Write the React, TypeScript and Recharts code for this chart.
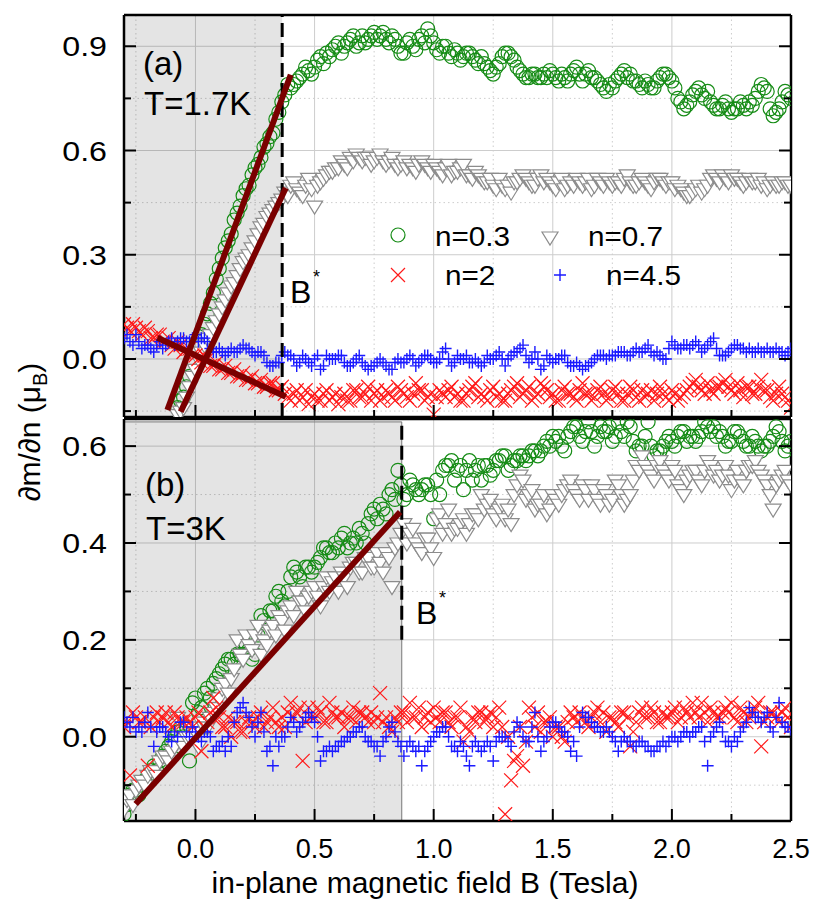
import React from 'react';
import {
  ScatterChart,
  Scatter,
  XAxis,
  YAxis,
  CartesianGrid,
  ReferenceArea,
} from 'recharts';

// in-plane field sweep shared by both panels (Tesla)
const FIELD = [
  -0.3, -0.275, -0.25, -0.225, -0.2, -0.175, -0.15, -0.125, -0.1, -0.075,
  -0.05, -0.025, 0, 0.025, 0.05, 0.075, 0.1, 0.125, 0.15, 0.175,
  0.2, 0.225, 0.25, 0.275, 0.3, 0.325, 0.35, 0.375, 0.4, 0.425,
  0.45, 0.475, 0.5, 0.525, 0.55, 0.575, 0.6, 0.625, 0.65, 0.675,
  0.7, 0.725, 0.75, 0.775, 0.8, 0.825, 0.85, 0.875, 0.9, 0.925,
  0.95, 0.975, 1, 1.025, 1.05, 1.075, 1.1, 1.125, 1.15, 1.175,
  1.2, 1.225, 1.25, 1.275, 1.3, 1.325, 1.35, 1.375, 1.4, 1.425,
  1.45, 1.475, 1.5, 1.525, 1.55, 1.575, 1.6, 1.625, 1.65, 1.675,
  1.7, 1.725, 1.75, 1.775, 1.8, 1.825, 1.85, 1.875, 1.9, 1.925,
  1.95, 1.975, 2, 2.025, 2.05, 2.075, 2.1, 2.125, 2.15, 2.175,
  2.2, 2.225, 2.25, 2.275, 2.3, 2.325, 2.35, 2.375, 2.4, 2.425,
  2.45, 2.475, 2.5,
];
// second (interleaved) sweep
const FIELD_MID = [
  -0.2875, -0.2625, -0.2375, -0.2125, -0.1875, -0.1625, -0.1375, -0.1125, -0.0875, -0.0625,
  -0.0375, -0.0125, 0.0125, 0.0375, 0.0625, 0.0875, 0.1125, 0.1375, 0.1625, 0.1875,
  0.2125, 0.2375, 0.2625, 0.2875, 0.3125, 0.3375, 0.3625, 0.3875, 0.4125, 0.4375,
  0.4625, 0.4875, 0.5125, 0.5375, 0.5625, 0.5875, 0.6125, 0.6375, 0.6625, 0.6875,
  0.7125, 0.7375, 0.7625, 0.7875, 0.8125, 0.8375, 0.8625, 0.8875, 0.9125, 0.9375,
  0.9625, 0.9875, 1.0125, 1.0375, 1.0625, 1.0875, 1.1125, 1.1375, 1.1625, 1.1875,
  1.2125, 1.2375, 1.2625, 1.2875, 1.3125, 1.3375, 1.3625, 1.3875, 1.4125, 1.4375,
  1.4625, 1.4875, 1.5125, 1.5375, 1.5625, 1.5875, 1.6125, 1.6375, 1.6625, 1.6875,
  1.7125, 1.7375, 1.7625, 1.7875, 1.8125, 1.8375, 1.8625, 1.8875, 1.9125, 1.9375,
  1.9625, 1.9875, 2.0125, 2.0375, 2.0625, 2.0875, 2.1125, 2.1375, 2.1625, 2.1875,
  2.2125, 2.2375, 2.2625, 2.2875, 2.3125, 2.3375, 2.3625, 2.3875, 2.4125, 2.4375,
  2.4625, 2.4875,
];

// panel (a), T = 1.7 K  (dm/dn in mu_B, null = no point)
const A_N03 = [
  null, null, null, null, null, null, null, null, null, -0.14,
  -0.11, -0.05, 0.03, 0.07, 0.13, 0.19, 0.26, 0.32, 0.36, 0.42,
  0.47, 0.5, 0.55, 0.58, 0.62, 0.65, 0.71, 0.76, 0.78, 0.8,
  0.82, 0.83, 0.84, 0.87, 0.88, 0.89, 0.91, 0.9, 0.92, 0.9,
  0.93, 0.92, 0.94, 0.93, 0.92, 0.93, 0.9, 0.88, 0.92, 0.89,
  0.93, 0.95, 0.91, 0.88, 0.9, 0.87, 0.88, 0.87, 0.88, 0.86,
  0.87, 0.84, 0.82, 0.85, 0.88, 0.87, 0.84, 0.82, 0.81, 0.82,
  0.81, 0.81, 0.82, 0.8, 0.81, 0.82, 0.84, 0.8, 0.83, 0.81,
  0.79, 0.77, 0.78, 0.81, 0.83, 0.82, 0.8, 0.78, 0.79, 0.78,
  0.81, 0.82, 0.8, 0.75, 0.72, 0.74, 0.77, 0.76, 0.77, 0.73,
  0.72, 0.74, 0.71, 0.72, 0.73, 0.74, 0.75, 0.79, 0.77, 0.7,
  0.72, 0.77, 0.75,
];
const A_N03_MID = [
  null, null, null, null, null, null, null, null, null, -0.12,
  -0.08, 0, 0.05, 0.1, 0.16, 0.23, 0.29, 0.34, 0.4, 0.44,
  0.49, 0.53, 0.56, 0.61, 0.64, 0.69, 0.74, 0.79, 0.79, 0.81,
  0.84, 0.82, 0.86, 0.85, 0.87, 0.9, 0.88, 0.91, 0.93, 0.91,
  0.91, 0.93, 0.92, 0.94, 0.91, 0.92, 0.88, 0.91, 0.9, 0.92,
  0.91, 0.93, 0.89, 0.9, 0.88, 0.89, 0.86, 0.88, 0.87, 0.85,
  0.85, 0.83, 0.84, 0.87, 0.88, 0.86, 0.83, 0.81, 0.82, 0.81,
  0.82, 0.83, 0.81, 0.82, 0.8, 0.83, 0.82, 0.82, 0.81, 0.8,
  0.78, 0.79, 0.8, 0.82, 0.81, 0.8, 0.79, 0.8, 0.78, 0.8,
  0.82, 0.81, 0.78, 0.74, 0.73, 0.76, 0.78, 0.75, 0.74, 0.72,
  0.73, 0.72, 0.72, 0.74, 0.72, 0.73, 0.77, 0.78, 0.72, 0.71,
  0.74, 0.76,
];
const A_N07 = [
  null, null, null, null, null, null, null, null, null, -0.16,
  -0.14, -0.08, -0.03, 0.02, 0.06, 0.09, 0.13, 0.17, 0.21, 0.24,
  0.28, 0.3, 0.34, 0.38, 0.41, 0.43, 0.45, 0.48, 0.5, 0.49,
  0.47, 0.52, 0.44, 0.51, 0.53, 0.54, 0.55, 0.56, 0.58, 0.59,
  0.57, 0.58, 0.57, 0.59, 0.56, 0.58, 0.55, 0.57, 0.56, 0.54,
  0.57, 0.55, 0.56, 0.54, 0.55, 0.53, 0.54, 0.56, 0.53, 0.54,
  0.52, 0.51, 0.5, 0.52, 0.49, 0.48, 0.51, 0.53, 0.51, 0.5,
  0.53, 0.52, 0.5, 0.51, 0.49, 0.51, 0.52, 0.5, 0.52, 0.5,
  0.51, 0.52, 0.5, 0.51, 0.52, 0.51, 0.5, 0.52, 0.5, 0.51,
  0.52, 0.5, 0.51, 0.5, 0.48, 0.47, 0.49, 0.48, 0.5, 0.53,
  0.51, 0.52, 0.53, 0.52, 0.5, 0.52, 0.51, 0.5, 0.49, 0.51,
  0.5, 0.51, 0.5,
];
const A_N07_MID = [
  null, null, null, null, null, null, null, null, null, -0.15,
  -0.11, -0.05, 0, 0.04, 0.07, 0.11, 0.15, 0.19, 0.22, 0.26,
  0.29, 0.32, 0.36, 0.39, 0.42, 0.44, 0.46, 0.47, 0.51, 0.48,
  0.5, 0.49, 0.5, 0.52, 0.54, 0.55, 0.57, 0.55, 0.57, 0.58,
  0.58, 0.56, 0.58, 0.57, 0.57, 0.56, 0.56, 0.55, 0.55, 0.56,
  0.56, 0.54, 0.55, 0.53, 0.56, 0.54, 0.55, 0.53, 0.52, 0.53,
  0.51, 0.52, 0.49, 0.5, 0.5, 0.51, 0.52, 0.52, 0.5, 0.52,
  0.51, 0.51, 0.49, 0.52, 0.5, 0.5, 0.51, 0.51, 0.49, 0.52,
  0.5, 0.51, 0.51, 0.5, 0.53, 0.5, 0.51, 0.51, 0.49, 0.52,
  0.51, 0.51, 0.49, 0.49, 0.47, 0.48, 0.5, 0.49, 0.52, 0.52,
  0.53, 0.51, 0.52, 0.51, 0.51, 0.51, 0.52, 0.51, 0.5, 0.5,
  0.51, 0.5,
];
const A_N2 = [
  0.1, 0.08, 0.09, 0.07, 0.08, 0.06, 0.07, 0.05, 0.04, 0.05,
  0.02, 0.03, 0.01, -0.01, 0, -0.02, -0.03, -0.02, -0.04, -0.05,
  -0.04, -0.06, -0.07, -0.06, -0.08, -0.07, -0.09, -0.1, -0.12, -0.09,
  -0.11, -0.13, -0.1, -0.12, -0.09, -0.11, -0.13, -0.1, -0.12, -0.09,
  -0.11, -0.08, -0.1, -0.12, -0.09, -0.11, -0.08, -0.1, -0.12, -0.07,
  -0.09, -0.11, -0.16, -0.09, -0.11, -0.08, -0.1, -0.12, -0.09, -0.07,
  -0.1, -0.12, -0.08, -0.1, -0.12, -0.09, -0.07, -0.1, -0.08, -0.11,
  -0.07, -0.09, -0.1, -0.12, -0.08, -0.1, -0.12, -0.07, -0.1, -0.11,
  -0.08, -0.12, -0.09, -0.1, -0.12, -0.08, -0.11, -0.09, -0.1, -0.12,
  -0.08, -0.11, -0.09, -0.12, -0.1, -0.08, -0.06, -0.09, -0.07, -0.1,
  -0.08, -0.06, -0.09, -0.07, -0.11, -0.08, -0.1, -0.06, -0.09, -0.12,
  -0.08, -0.11, -0.14,
];
const A_N2_MID = [
  0.09, 0.1, 0.08, 0.09, 0.06, 0.07, 0.05, 0.06, 0.03, 0.04,
  0.03, 0.01, 0, 0.01, -0.02, -0.01, -0.03, -0.04, -0.03, -0.05,
  -0.06, -0.05, -0.07, -0.08, -0.07, -0.09, -0.08, -0.11, -0.1, -0.12,
  -0.09, -0.11, -0.12, -0.1, -0.12, -0.1, -0.11, -0.12, -0.09, -0.11,
  -0.1, -0.12, -0.09, -0.11, -0.1, -0.12, -0.09, -0.11, -0.1, -0.09,
  -0.12, -0.1, -0.11, -0.1, -0.09, -0.11, -0.12, -0.1, -0.08, -0.11,
  -0.11, -0.09, -0.11, -0.12, -0.1, -0.08, -0.11, -0.09, -0.12, -0.1,
  -0.08, -0.11, -0.12, -0.09, -0.1, -0.11, -0.09, -0.1, -0.12, -0.09,
  -0.1, -0.11, -0.08, -0.12, -0.1, -0.09, -0.12, -0.11, -0.09, -0.1,
  -0.1, -0.12, -0.1, -0.11, -0.09, -0.07, -0.08, -0.1, -0.09, -0.08,
  -0.07, -0.08, -0.1, -0.09, -0.08, -0.1, -0.08, -0.09, -0.11, -0.1,
  -0.1, -0.12,
];
const A_N45 = [
  0.06, 0.05, 0.07, 0.03, 0.04, 0.02, 0.05, 0.04, 0.06, 0.05,
  0.06, 0.05, 0.07, 0.06, 0.05, 0.02, 0.03, 0.01, 0.03, 0.02,
  0.04, 0.03, 0.01, 0.02, -0.01, -0.02, -0.01, 0.02, 0.01, -0.02,
  0.01, -0.01, 0, -0.03, 0.01, 0, 0.01, -0.01, -0.02, 0,
  -0.01, -0.03, -0.02, 0, -0.02, -0.03, 0, -0.01, 0.01, -0.02,
  0, 0.01, -0.01, 0, 0.03, -0.02, 0.01, 0, -0.01, 0,
  -0.02, 0.01, 0, 0.02, -0.02, 0.01, 0.02, 0.04, -0.01, 0.02,
  -0.03, 0.01, -0.01, 0, 0.01, -0.02, -0.01, -0.03, -0.02, 0,
  0.01, 0, 0.01, 0.02, 0.02, 0.01, 0.03, 0.02, 0.04, 0.01,
  0.01, 0, 0.05, 0.03, 0.04, 0.03, 0.05, 0.02, 0.04, 0.06,
  0.01, 0.01, 0.03, 0.04, 0.03, 0.03, 0.02, 0.02, 0.03, 0.02,
  0.02, 0.01, 0.03,
];
const A_N45_MID = [
  0.07, 0.04, 0.05, 0.04, 0.03, 0.04, 0.03, 0.05, 0.04, 0.06,
  0.05, 0.06, 0.05, 0.06, 0.03, 0.02, 0.02, 0.02, 0.02, 0.03,
  0.03, 0.02, 0.02, 0.01, -0.02, -0.01, 0.01, 0.01, 0, -0.01,
  0, -0.02, 0.01, -0.02, 0, 0, 0.01, -0.02, -0.01, 0.01,
  -0.02, -0.02, -0.01, -0.01, -0.03, -0.01, -0.01, 0, 0, -0.01,
  0.01, 0, -0.01, 0.02, 0, -0.01, 0, 0.01, -0.01, -0.01,
  -0.01, 0, 0.01, 0, 0, 0.02, 0.03, 0.01, 0, 0,
  -0.02, 0, 0, 0.01, -0.01, -0.02, -0.02, -0.02, -0.01, 0.01,
  0.01, 0.01, 0.01, 0.02, 0.01, 0.02, 0.02, 0.03, 0.02, 0.02,
  0, 0.03, 0.04, 0.03, 0.04, 0.04, 0.04, 0.03, 0.05, 0.03,
  0.01, 0.02, 0.04, 0.03, 0.02, 0.02, 0.03, 0.02, 0.02, 0.03,
  0.02, 0.02,
];

// panel (b), T = 3 K
const B_N03 = [
  -0.16, -0.12, -0.11, -0.1, -0.08, -0.06, -0.05, -0.03, -0.01, 0.01,
  0, -0.05, 0.08, 0.06, 0.1, 0.11, 0.13, 0.15, 0.16, 0.17,
  0.17, 0.18, 0.17, 0.25, 0.22, 0.26, 0.3, 0.27, 0.33, 0.34,
  0.31, 0.35, 0.35, 0.37, 0.39, 0.38, 0.39, 0.42, 0.4, 0.4,
  0.42, 0.44, 0.47, 0.48, 0.46, 0.51, 0.55, 0.49, 0.53, 0.51,
  0.51, 0.52, 0.45, 0.5, 0.56, 0.57, 0.55, 0.51, 0.57, 0.55,
  0.53, 0.56, 0.55, 0.57, 0.58, 0.56, 0.57, 0.58, 0.58, 0.59,
  0.59, 0.61, 0.62, 0.62, 0.59, 0.63, 0.64, 0.61, 0.65, 0.6,
  0.64, 0.63, 0.61, 0.65, 0.62, 0.64, 0.59, 0.6, 0.65, 0.58,
  0.59, 0.61, 0.61, 0.62, 0.63, 0.62, 0.61, 0.63, 0.64, 0.64,
  0.63, 0.6, 0.61, 0.63, 0.61, 0.6, 0.61, 0.59, 0.6, 0.62,
  0.63, 0.59, 0.61,
];
const B_N03_MID = [
  -0.14, -0.11, -0.12, -0.09, -0.07, -0.07, -0.04, -0.02, 0, -0.02,
  0.02, 0.07, 0.05, 0.09, 0.08, 0.12, 0.14, 0.16, 0.15, 0.17,
  0.19, 0.16, 0.21, 0.24, 0.26, 0.29, 0.28, 0.3, 0.35, 0.33,
  0.35, 0.34, 0.36, 0.39, 0.38, 0.4, 0.41, 0.39, 0.41, 0.43,
  0.4, 0.46, 0.45, 0.47, 0.5, 0.49, 0.52, 0.5, 0.52, 0.5,
  0.52, 0.5, 0.53, 0.55, 0.56, 0.53, 0.56, 0.55, 0.53, 0.56,
  0.56, 0.54, 0.57, 0.58, 0.55, 0.57, 0.58, 0.57, 0.59, 0.58,
  0.6, 0.6, 0.61, 0.6, 0.62, 0.64, 0.62, 0.63, 0.63, 0.62,
  0.63, 0.64, 0.62, 0.63, 0.65, 0.61, 0.6, 0.62, 0.6, 0.59,
  0.6, 0.62, 0.6, 0.63, 0.61, 0.62, 0.62, 0.65, 0.63, 0.62,
  0.62, 0.61, 0.63, 0.62, 0.6, 0.62, 0.6, 0.6, 0.61, 0.64,
  0.61, 0.6,
];
const B_N07 = [
  -0.15, -0.12, -0.11, -0.09, -0.08, -0.07, -0.05, -0.04, -0.03, 0.04,
  -0.02, 0, 0.01, 0.03, 0.02, 0.05, 0.08, 0.11, 0.12, 0.2,
  0.16, 0.19, 0.21, 0.17, 0.19, 0.23, 0.25, 0.22, 0.27, 0.3,
  0.28, 0.29, 0.31, 0.27, 0.33, 0.32, 0.3, 0.33, 0.35, 0.36,
  0.34, 0.37, 0.35, 0.36, 0.38, 0.31, 0.4, 0.44, 0.42, 0.4,
  0.38, 0.41, 0.37, 0.46, 0.44, 0.42, 0.43, 0.45, 0.44, 0.46,
  0.5, 0.48, 0.46, 0.47, 0.45, 0.44, 0.52, 0.53, 0.5, 0.47,
  0.48, 0.46, 0.5, 0.48, 0.51, 0.53, 0.5, 0.52, 0.49, 0.51,
  0.48, 0.5, 0.49, 0.52, 0.48, 0.5, 0.56, 0.58, 0.55, 0.53,
  0.57, 0.54, 0.56, 0.52, 0.5, 0.54, 0.55, 0.52, 0.57, 0.54,
  0.53, 0.56, 0.51, 0.55, 0.52, 0.56, 0.57, 0.54, 0.52, 0.47,
  0.53, 0.55, 0.52,
];
const B_N07_MID = [
  -0.13, -0.14, -0.1, -0.1, -0.07, -0.08, -0.04, -0.05, -0.02, -0.01,
  0, 0.02, -0.02, 0.02, 0.04, 0.06, 0.1, 0.09, 0.14, 0.17,
  0.21, 0.18, 0.23, 0.2, 0.22, 0.21, 0.24, 0.26, 0.25, 0.28,
  0.26, 0.3, 0.29, 0.31, 0.3, 0.33, 0.34, 0.31, 0.36, 0.34,
  0.37, 0.35, 0.38, 0.34, 0.37, 0.39, 0.42, 0.4, 0.43, 0.39,
  0.41, 0.39, 0.45, 0.42, 0.47, 0.43, 0.44, 0.42, 0.46, 0.45,
  0.47, 0.49, 0.45, 0.48, 0.47, 0.5, 0.54, 0.49, 0.51, 0.48,
  0.5, 0.47, 0.49, 0.5, 0.52, 0.51, 0.49, 0.51, 0.52, 0.49,
  0.51, 0.48, 0.53, 0.5, 0.49, 0.53, 0.55, 0.56, 0.54, 0.56,
  0.55, 0.53, 0.55, 0.51, 0.53, 0.55, 0.53, 0.55, 0.56, 0.55,
  0.54, 0.54, 0.53, 0.53, 0.55, 0.56, 0.55, 0.53, 0.5, 0.52,
  0.54, 0.53,
];
const B_N2 = [
  0.02, -0.08, 0.04, 0.03, -0.06, 0.04, 0.03, 0.05, 0.02, 0.04,
  0.03, 0.03, 0.04, -0.03, 0.03, 0.08, 0.04, 0.02, 0, 0.03,
  0.01, 0.04, 0.02, 0.05, 0.03, 0.06, 0.02, 0.02, 0.07, 0.05,
  -0.05, 0.06, 0.04, 0.05, 0.03, 0.05, 0.04, 0.02, 0.04, 0.03,
  0.05, 0.03, 0.03, 0.09, 0.04, 0.01, 0.03, 0.05, 0.07, 0.04,
  0.02, 0.05, 0.06, 0.03, 0.05, 0.02, 0.04, -0.01, 0.01, 0.03,
  0.05, 0.04, 0.02, 0.06, -0.16, -0.09, -0.04, -0.06, 0.06, 0.02,
  0.01, 0.03, 0, 0.02, -0.01, 0.05, 0.03, 0.04, 0.02, 0.05,
  0.03, 0.01, 0.04, 0.02, 0.05, -0.02, 0.03, 0.06, 0.04, 0.05,
  0.03, 0.04, 0.05, 0.03, 0.06, 0.04, 0.05, 0.07, 0.03, 0.05,
  0.04, 0.06, 0.07, 0.03, 0.05, 0.04, 0.06, -0.02, 0.04, 0.05,
  0.03, 0.06, 0.02,
];
const B_N2_MID = [
  0.03, 0.05, 0.03, 0.04, 0.02, 0.05, 0.04, 0.03, 0.05, 0.03,
  0.04, 0.02, 0.05, 0.02, 0.05, 0.06, 0.02, 0.04, 0.03, 0.01,
  0.03, 0.03, 0.04, 0.02, 0.04, 0.03, 0.04, 0.05, 0.04, 0.06,
  0.03, 0.04, 0.06, 0.03, 0.07, 0.04, 0.05, 0.04, 0.06, 0.05,
  0.04, 0.05, 0.04, 0.03, 0.02, 0.04, 0.05, 0.03, 0.04, 0.06,
  0.04, 0.03, 0.04, 0.05, 0.03, 0.04, 0.06, 0.02, 0.04, 0.05,
  0.03, 0.05, 0.04, 0.02, 0, -0.05, 0.02, -0.01, 0.04, 0.05,
  0.03, 0.04, 0.02, 0, 0.03, 0.04, 0.05, 0.03, 0.04, 0.06,
  0.05, 0.04, 0.03, 0.05, 0.04, 0.01, 0.05, 0.04, 0.06, 0.03,
  0.05, 0.04, 0.06, 0.04, 0.05, 0.07, 0.04, 0.05, 0.06, 0.04,
  0.05, 0.05, 0.04, 0.06, 0.03, 0.05, 0.07, 0.03, 0.05, 0.04,
  0.05, 0.04,
];
const B_N45 = [
  0.04, 0.02, 0.01, 0.01, 0.05, -0.02, 0.02, 0.01, -0.01, 0,
  0.03, 0, 0.01, -0.01, 0.01, -0.03, -0.02, -0.03, -0.02, 0.05,
  0.07, 0.04, 0, 0.05, -0.03, -0.06, -0.02, 0, 0.04, 0.01,
  0.03, 0.05, 0.03, -0.05, -0.03, -0.03, -0.02, -0.01, 0, 0.01,
  0.02, -0.01, -0.02, -0.04, 0, 0.03, -0.01, -0.04, -0.01, -0.03,
  -0.06, -0.02, 0, 0.01, 0.02, -0.02, -0.03, -0.02, -0.06, -0.01,
  -0.03, -0.01, -0.05, 0, 0, -0.02, 0.03, 0, -0.01, 0.05,
  -0.03, 0, 0.03, 0.02, 0.01, -0.03, -0.04, 0.05, 0.04, 0.02,
  0.01, 0.02, 0, -0.03, 0, -0.01, -0.02, -0.01, -0.02, -0.03,
  -0.02, -0.02, 0, -0.01, 0.01, 0, 0.01, 0.02, -0.06, 0.01,
  0.03, -0.01, -0.02, -0.01, 0.02, 0.06, 0.04, 0.03, 0.05, 0.01,
  0.07, 0.02, 0.01,
];
const B_N45_MID = [
  0.03, 0.04, 0.02, 0.03, 0.02, 0.01, 0.02, 0, 0.01, 0.03,
  0.01, 0.02, 0, 0.01, 0, -0.02, -0.01, 0, 0.03, 0.06,
  0.05, 0.02, 0.03, 0.01, -0.02, 0, 0, 0.02, 0.03, 0.02,
  0.04, 0.04, 0, -0.03, -0.02, -0.02, -0.01, 0, 0.01, 0.02,
  0, -0.01, -0.02, -0.01, 0.02, 0.01, -0.02, -0.02, -0.02, -0.02,
  -0.03, -0.01, 0.01, 0.02, 0, -0.02, -0.01, -0.04, -0.02, -0.02,
  -0.02, -0.02, -0.01, 0, -0.01, 0.01, 0.02, -0.01, 0.02, 0,
  -0.01, 0.02, 0.03, 0.01, 0, -0.01, 0.02, 0.04, 0.03, 0.02,
  0.01, 0.01, -0.01, -0.01, -0.01, -0.02, -0.01, -0.02, -0.03, -0.02,
  -0.01, -0.01, 0, 0, 0.01, 0.01, 0.02, -0.01, 0, 0.02,
  0.01, -0.01, 0, 0.01, 0.03, 0.05, 0.04, 0.04, 0.02, 0.04,
  0.03, 0.02,
];

// linear fits below B* (end points)
const A_FIT_N03 = [{ x: -0.118, y: -0.147 }, { x: 0.4, y: 0.818 }];
const A_FIT_N07 = [{ x: -0.062, y: -0.152 }, { x: 0.379, y: 0.492 }];
const A_FIT_N2 = [{ x: -0.16, y: 0.061 }, { x: 0.379, y: -0.109 }];
const B_FIT_N07 = [{ x: -0.251, y: -0.139 }, { x: 0.859, y: 0.464 }];

const A_BSTAR = 0.364;
const B_BSTAR = 0.866;

const X_DOMAIN = [-0.3, 2.5];
const X_TICKS = [-0.25, 0, 0.25, 0.5, 0.75, 1, 1.25, 1.5, 1.75, 2, 2.25, 2.5];
const X_MAJOR = [0, 0.5, 1, 1.5, 2, 2.5];
const A_Y_DOMAIN = [-0.167, 0.99];
const A_Y_TICKS = [-0.15, 0, 0.15, 0.3, 0.45, 0.6, 0.75, 0.9];
const A_Y_MAJOR = [0, 0.3, 0.6, 0.9];
const B_Y_DOMAIN = [-0.174, 0.656];
const B_Y_TICKS = [-0.1, 0, 0.1, 0.2, 0.3, 0.4, 0.5, 0.6];
const B_Y_MAJOR = [0, 0.2, 0.4, 0.6];

const GREEN = '#168c16';
const GREY = '#8c8c8c';
const RED = '#ff1a1a';
const BLUE = '#1a1aff';
const FIT = '#7a0000';
const FONT = "'Liberation Sans', Arial, Helvetica, sans-serif";
const AXIS = { stroke: '#000', strokeWidth: 2.5 };

const toPoints = (ys: (number | null)[], mid: (number | null)[]) =>
  [
    ...FIELD.map((x, i) => ({ x, y: ys[i] })),
    ...FIELD_MID.map((x, i) => ({ x, y: mid[i] })),
  ]
    .filter((p) => p.y !== null)
    .sort((a, b) => a.x - b.x);

const isMajor = (v: number, majors: number[]) => majors.some((m) => Math.abs(m - v) < 1e-6);

function Ring(p: any) {
  if (p.cx == null) return <g />;
  return <circle cx={p.cx} cy={p.cy} r={7} fill="none" stroke={GREEN} strokeWidth={1.2} />;
}
function DownTri(p: any) {
  if (p.cx == null) return <g />;
  const { cx, cy } = p;
  return (
    <polygon
      points={`${cx - 8},${cy - 5} ${cx + 8},${cy - 5} ${cx},${cy + 8}`}
      fill="#fff"
      stroke={GREY}
      strokeWidth={1.2}
    />
  );
}
function Cross(p: any) {
  if (p.cx == null) return <g />;
  const { cx, cy } = p;
  return (
    <path
      d={`M${cx - 7},${cy - 7}L${cx + 7},${cy + 7}M${cx - 7},${cy + 7}L${cx + 7},${cy - 7}`}
      stroke={RED}
      strokeWidth={1.2}
      fill="none"
    />
  );
}
function Plus(p: any) {
  if (p.cx == null) return <g />;
  const { cx, cy } = p;
  return (
    <path
      d={`M${cx - 6},${cy}L${cx + 6},${cy}M${cx},${cy - 6}L${cx},${cy + 6}`}
      stroke={BLUE}
      strokeWidth={1.4}
      fill="none"
    />
  );
}
const NoMark = () => <g />;

// inward tick marks, labels only on the outer left / bottom axes
function makeTick(side: string, majors: number[], labelled: boolean) {
  return (p: any) => {
    const v = p.payload.value;
    const major = isMajor(v, majors);
    const len = major ? 12 : 7;
    const { x, y } = p;
    let line = null;
    if (side === 'bottom') line = <line x1={x} y1={y} x2={x} y2={y - len} />;
    if (side === 'top') line = <line x1={x} y1={y} x2={x} y2={y + len} />;
    if (side === 'left') line = <line x1={x} y1={y} x2={x + len} y2={y} />;
    if (side === 'right') line = <line x1={x} y1={y} x2={x - len} y2={y} />;
    let label = null;
    if (labelled && major) {
      if (side === 'bottom') {
        label = (
          <text x={x} y={y + 37} textAnchor="middle" fontSize={27} fontFamily={FONT} fill="#000" stroke="none">
            {v.toFixed(1)}
          </text>
        );
      } else {
        label = (
          <text
            transform={`translate(${x - 17} ${y + 10}) scale(1.15 1)`}
            textAnchor="end"
            fontSize={28}
            fontFamily={FONT}
            fill="#000"
            stroke="none"
          >
            {v.toFixed(1)}
          </text>
        );
      }
    }
    return (
      <g stroke="#000" strokeWidth={2}>
        {line}
        {label}
      </g>
    );
  };
}

function Panel(props: any) {
  const { height, margin, bottomHeight, yDomain, yTicks, yMajor, xLabels, series, fits, bstar, dashFrom, area } =
    props;
  const xMinor = X_TICKS.filter((t) => !isMajor(t, X_MAJOR));
  const yMinor = yTicks.filter((t: number) => !isMajor(t, yMajor));
  const common = {
    type: 'number' as const,
    allowDataOverflow: true,
    interval: 0 as const,
    tickLine: false,
    tickSize: 0,
    tickMargin: 0,
    axisLine: AXIS,
  };
  const dash = [{ x: bstar, y: dashFrom }, { x: bstar, y: yDomain[1] }];
  return (
    <ScatterChart width={814} height={height} margin={margin}>
      <CartesianGrid stroke="#cdcdcd" horizontalValues={yMajor} verticalValues={X_MAJOR.filter((v) => v < 2.5)} />
      <CartesianGrid stroke="#cdcdcd" strokeDasharray="1.5 3" horizontalValues={yMinor} verticalValues={xMinor} />
      <ReferenceArea
        x1={area.x1}
        x2={area.x2}
        y1={area.y1}
        y2={area.y2}
        fill="#000"
        fillOpacity={0.105}
        stroke={area.stroke}
        strokeWidth={1}
        ifOverflow="hidden"
      />
      <XAxis {...common} dataKey="x" domain={X_DOMAIN} ticks={X_TICKS} height={bottomHeight} tick={makeTick('bottom', X_MAJOR, xLabels)} />
      <XAxis {...common} xAxisId="top" orientation="top" domain={X_DOMAIN} ticks={X_TICKS} height={1} tick={makeTick('top', X_MAJOR, false)} />
      <YAxis {...common} dataKey="y" domain={yDomain} ticks={yTicks} width={124} tick={makeTick('left', yMajor, true)} />
      <YAxis {...common} yAxisId="right" orientation="right" domain={yDomain} ticks={yTicks} width={1} tick={makeTick('right', yMajor, false)} />
      <Scatter data={series[0]} shape={Ring} isAnimationActive={false} legendType="none" />
      <Scatter data={series[1]} shape={DownTri} isAnimationActive={false} legendType="none" />
      <Scatter data={series[2]} shape={Cross} isAnimationActive={false} legendType="none" />
      <Scatter data={series[3]} shape={Plus} isAnimationActive={false} legendType="none" />
      <Scatter
        data={dash}
        shape={NoMark}
        line={{ stroke: '#000', strokeWidth: 3, strokeDasharray: '14 6' }}
        isAnimationActive={false}
        legendType="none"
      />
      {fits.map((f: any, i: number) => (
        <Scatter
          key={i}
          data={f}
          shape={NoMark}
          line={{ stroke: FIT, strokeWidth: 6 }}
          isAnimationActive={false}
          legendType="none"
        />
      ))}
    </ScatterChart>
  );
}

function Overlay() {
  const t = { fontFamily: FONT, fill: '#000' };
  return (
    <svg width={814} height={904} style={{ position: 'absolute', left: 0, top: 0, pointerEvents: 'none' }}>
      <text {...t} x={143} y={75} fontSize={33}>(a)</text>
      <text {...t} x={144} y={115} fontSize={33}>T=1.7K</text>
      <text {...t} x={145} y={496} fontSize={33}>(b)</text>
      <text {...t} x={146} y={540} fontSize={33}>T=3K</text>
      <text {...t} x={290} y={303} fontSize={32}>B</text>
      <text {...t} x={313} y={283} fontSize={18}>*</text>
      <text {...t} x={416} y={624} fontSize={32}>B</text>
      <text {...t} x={439} y={604} fontSize={18}>*</text>

      <circle cx={398} cy={235} r={7} fill="none" stroke={GREEN} strokeWidth={1.2} />
      <text {...t} x={435} y={246} fontSize={27} transform="translate(435 0) scale(1.1 1) translate(-435 0)">n=0.3</text>
      <polygon points="542,232 558,232 550,245" fill="#fff" stroke={GREY} strokeWidth={1.2} />
      <text {...t} x={588} y={246} fontSize={27} transform="translate(588 0) scale(1.1 1) translate(-588 0)">n=0.7</text>
      <path d="M391,268L405,282M391,282L405,268" stroke={RED} strokeWidth={1.2} fill="none" />
      <text {...t} x={445} y={285} fontSize={27} transform="translate(445 0) scale(1.1 1) translate(-445 0)">n=2</text>
      <path d="M554,275L566,275M560,269L560,281" stroke={BLUE} strokeWidth={1.4} fill="none" />
      <text {...t} x={606} y={285} fontSize={27} transform="translate(606 0) scale(1.1 1) translate(-606 0)">n=4.5</text>

      <text {...t} transform="translate(40 432) rotate(-90)" textAnchor="middle" fontSize={30}>
        ∂m/∂n (μ<tspan fontSize={20} dy={7}>B</tspan>
        <tspan dy={-7}>)</tspan>
      </text>
      <text {...t} x={425} y={893} textAnchor="middle" fontSize={30}>
        in-plane magnetic field B (Tesla)
      </text>
    </svg>
  );
}

export default function App() {
  const aSeries = [
    toPoints(A_N03, A_N03_MID),
    toPoints(A_N07, A_N07_MID),
    toPoints(A_N2, A_N2_MID),
    toPoints(A_N45, A_N45_MID),
  ];
  const bSeries = [
    toPoints(B_N03, B_N03_MID),
    toPoints(B_N07, B_N07_MID),
    toPoints(B_N2, B_N2_MID),
    toPoints(B_N45, B_N45_MID),
  ];
  return (
    <div style={{ position: 'absolute', left: 0, top: 0, width: 814, height: 904, background: '#fff', fontFamily: FONT }}>
      <div style={{ position: 'absolute', left: 0, top: 0 }}>
        <Panel
          height={420}
          margin={{ top: 14, right: 22, bottom: 2, left: 0 }}
          bottomHeight={1}
          yDomain={A_Y_DOMAIN}
          yTicks={A_Y_TICKS}
          yMajor={A_Y_MAJOR}
          xLabels={false}
          series={aSeries}
          fits={[A_FIT_N03, A_FIT_N07, A_FIT_N2]}
          bstar={A_BSTAR}
          dashFrom={A_Y_DOMAIN[0]}
          area={{ x1: X_DOMAIN[0], x2: A_BSTAR, y1: A_Y_DOMAIN[0], y2: A_Y_DOMAIN[1], stroke: 'none' }}
        />
      </div>
      <div style={{ position: 'absolute', left: 0, top: 417 }}>
        <Panel
          height={487}
          margin={{ top: 1, right: 22, bottom: 33, left: 0 }}
          bottomHeight={50}
          yDomain={B_Y_DOMAIN}
          yTicks={B_Y_TICKS}
          yMajor={B_Y_MAJOR}
          xLabels={true}
          series={bSeries}
          fits={[B_FIT_N07]}
          bstar={B_BSTAR}
          dashFrom={0.2}
          area={{ x1: X_DOMAIN[0], x2: B_BSTAR, y1: B_Y_DOMAIN[0], y2: 0.65, stroke: '#777' }}
        />
      </div>
      <Overlay />
    </div>
  );
}
